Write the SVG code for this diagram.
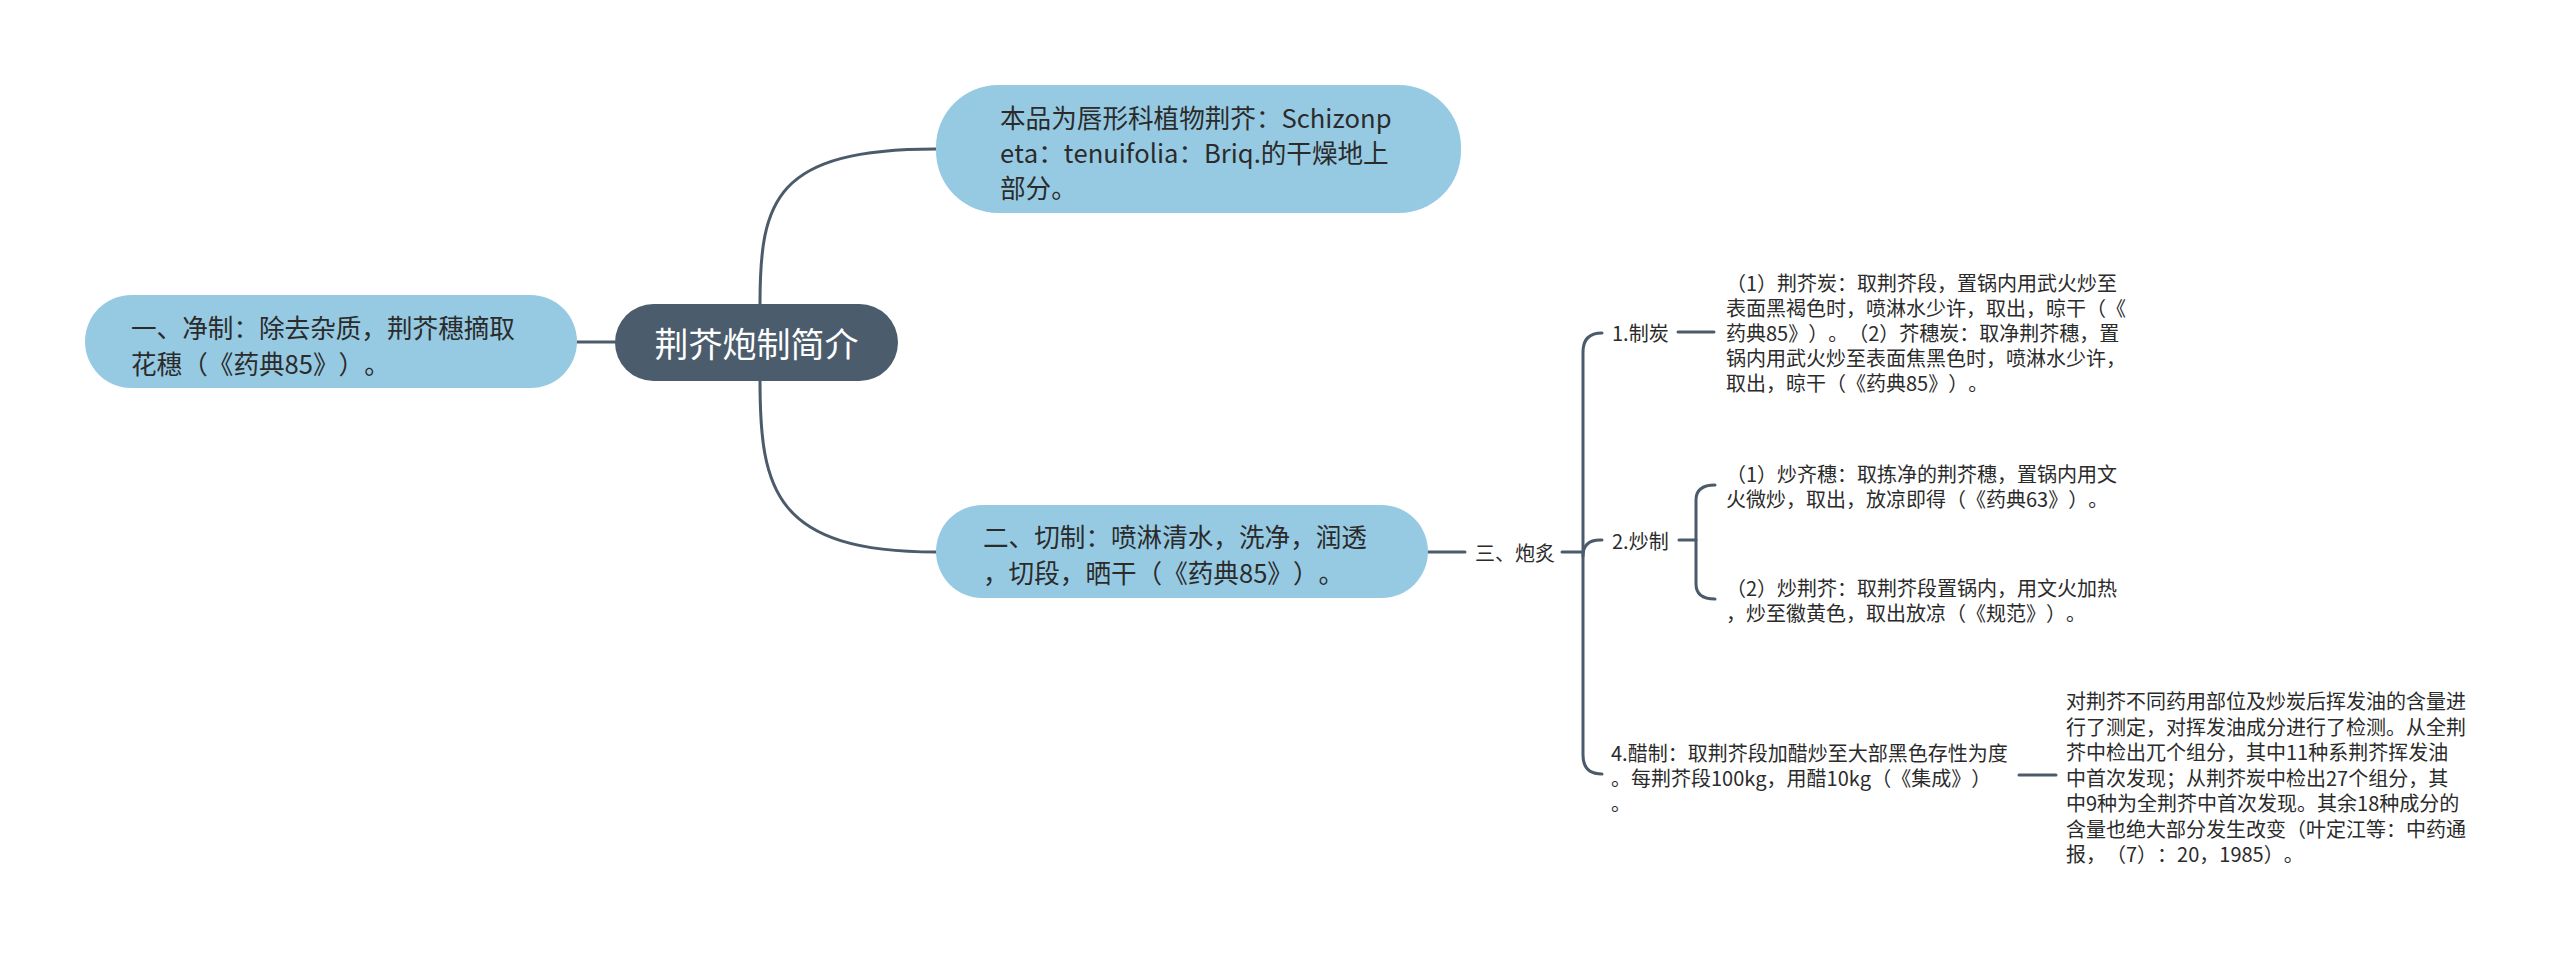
<svg xmlns="http://www.w3.org/2000/svg" width="2560" height="959" viewBox="0 0 2560 959">
<style>
.bg{fill:#ffffff}
.sub{fill:#96cae3}
.root{fill:#4b5c6c}
.ln{fill:none;stroke:#4b5b6b;stroke-width:3;stroke-linecap:round}
text{font-family:"Noto Sans CJK SC","Noto Sans",sans-serif;dominant-baseline:central;text-spacing-trim:space-all;font-kerning:none;font-feature-settings:"palt" 0,"halt" 0,"chws" 0}
.rt{font-size:34px;fill:#ffffff}
.nt{font-size:25.6px;fill:#2b2b2b}
.st{font-size:20px;fill:#2b2b2b}
</style>
<rect class="bg" x="0" y="0" width="2560" height="959"/>
<g id="connectors">
<path class="ln" d="M760,304 C760,200 775,149 936,149"/>
<path class="ln" d="M760,381 C760,490 775,552 936,552"/>
<path class="ln" d="M577,342 L615,342"/>
<path class="ln" d="M1428,552 L1465,552"/>
<path class="ln" d="M1562,552 L1583,552"/>
<path class="ln" d="M1602,333 Q1583,333 1583,352 L1583,755 Q1583,774 1602,774"/>
<path class="ln" d="M1583,556 Q1583,540 1600,540 L1602,540"/>
<path class="ln" d="M1678,332 L1714,332"/>
<path class="ln" d="M1679,540 L1696,540"/>
<path class="ln" d="M1715,485 Q1696,485 1696,500 L1696,584 Q1696,599 1715,599"/>
<path class="ln" d="M2019,775 L2056,775"/>
</g>
<g id="root">
<rect class="root" x="615" y="304" width="283" height="77" rx="38.5"/>
<text class="rt" x="756.5" y="342" text-anchor="middle">荆芥炮制简介</text>
</g>
<g id="n-top">
<rect class="sub" x="936" y="85" width="525" height="128" rx="62"/>
<text class="nt"><tspan x="1000" y="116">本品为唇形科植物荆芥：Schizonp</tspan><tspan x="1000" y="151">eta：tenuifolia：Briq.的干燥地上</tspan><tspan x="1000" y="186">部分。</tspan></text>
</g>
<g id="n-left">
<rect class="sub" x="85" y="295" width="492" height="93" rx="46.5"/>
<text class="nt"><tspan x="131" y="326">一、净制：除去杂质，荆芥穗摘取</tspan><tspan x="131" y="362">花穗（《药典85》）。</tspan></text>
</g>
<g id="n-cut">
<rect class="sub" x="936" y="505" width="492" height="93" rx="46.5"/>
<text class="nt"><tspan x="983" y="535">二、切制：喷淋清水，洗净，润透</tspan><tspan x="983" y="571">，切段，晒干（《药典85》）。</tspan></text>
</g>
<g id="n-paozhi">
<text class="st" x="1475" y="552">三、炮炙</text>
</g>
<g id="n-zhitan">
<text class="st" x="1612" y="332">1.制炭</text>
</g>
<g id="n-zhitan-d">
<text class="st"><tspan x="1726" y="282">（1）荆芥炭：取荆芥段，置锅内用武火炒至</tspan><tspan x="1726" y="307">表面黑褐色时，喷淋水少许，取出，晾干（《</tspan><tspan x="1726" y="332">药典85》）。（2）芥穗炭：取净荆芥穗，置</tspan><tspan x="1726" y="357">锅内用武火炒至表面焦黑色时，喷淋水少许，</tspan><tspan x="1726" y="382">取出，晾干（《药典85》）。</tspan></text>
</g>
<g id="n-chao">
<text class="st" x="1612" y="540">2.炒制</text>
</g>
<g id="n-chao-1">
<text class="st"><tspan x="1726" y="473">（1）炒齐穗：取拣净的荆芥穗，置锅内用文</tspan><tspan x="1726" y="498">火微炒，取出，放凉即得（《药典63》）。</tspan></text>
</g>
<g id="n-chao-2">
<text class="st"><tspan x="1726" y="587">（2）炒荆芥：取荆芥段置锅内，用文火加热</tspan><tspan x="1726" y="612">，炒至徽黄色，取出放凉（《规范》）。</tspan></text>
</g>
<g id="n-cu">
<text class="st"><tspan x="1611" y="752">4.醋制：取荆芥段加醋炒至大部黑色存性为度</tspan><tspan x="1611" y="777">。每荆芥段100kg，用醋10kg（《集成》）</tspan><tspan x="1611" y="802">。</tspan></text>
</g>
<g id="n-cu-d">
<text class="st"><tspan x="2066" y="700">对荆芥不同药用部位及炒炭后挥发油的含量进</tspan><tspan x="2066" y="725.5">行了测定，对挥发油成分进行了检测。从全荆</tspan><tspan x="2066" y="751">芥中检出兀个组分，其中11种系荆芥挥发油</tspan><tspan x="2066" y="776.5">中首次发现；从荆芥炭中检出27个组分，其</tspan><tspan x="2066" y="802">中9种为全荆芥中首次发现。其余18种成分的</tspan><tspan x="2066" y="827.5">含量也绝大部分发生改变（叶定江等：中药通</tspan><tspan x="2066" y="853">报，（7）：20，1985）。</tspan></text>
</g>
</svg>
